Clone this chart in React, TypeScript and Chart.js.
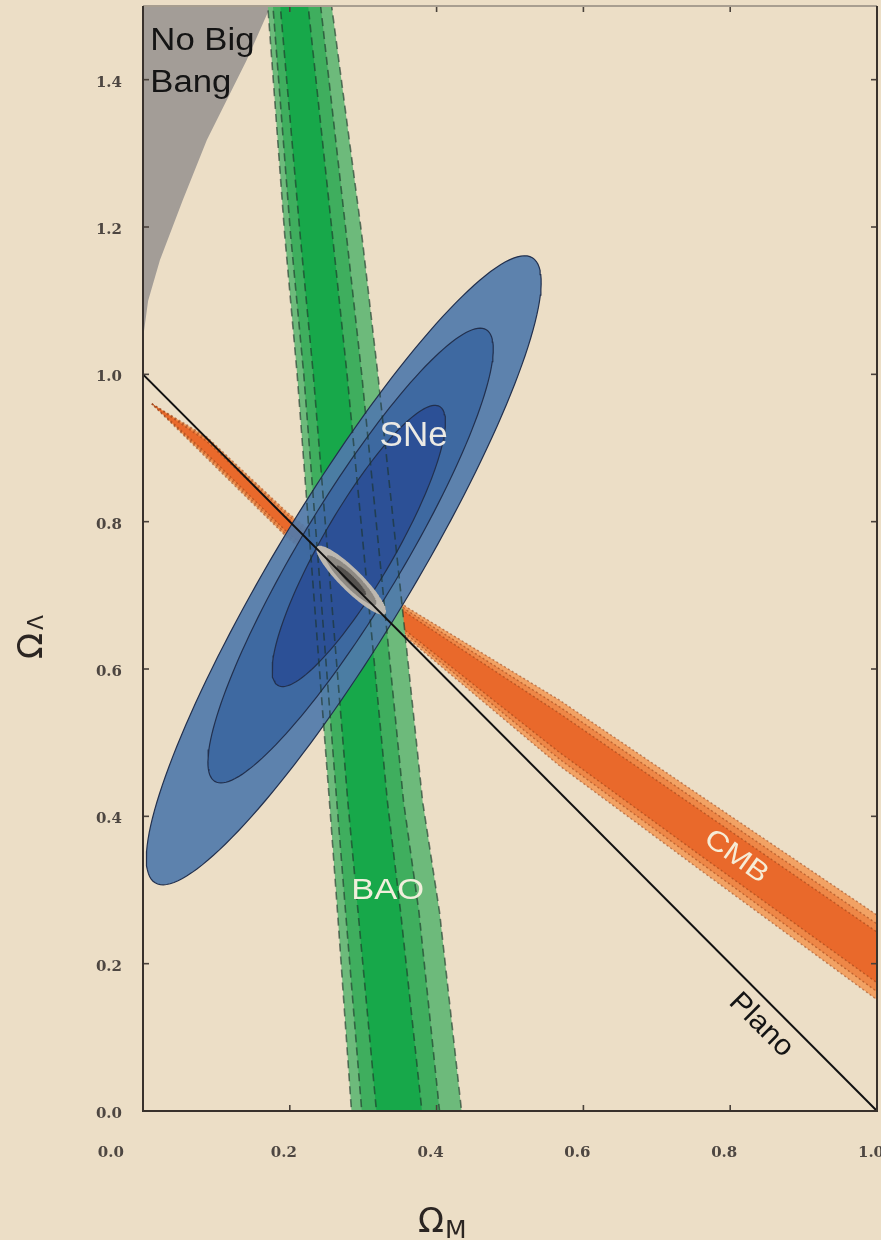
import { useEffect, useRef } from 'react';
import { Chart, registerables } from 'chart.js';

Chart.register(...registerables);

const BG = '#ecdec6';

// ---------- tick labels ----------
const xTickLabels = ['0.0', '0.2', '0.4', '0.6', '0.8', '1.0'];
const yTickLabels = ['0.0', '0.2', '0.4', '0.6', '0.8', '1.0', '1.2', '1.4'];

// ---------- "No Big Bang" region boundary ----------
const noBigBangX = [-0.02, 0.0, 0.001, 0.007, 0.023, 0.054, 0.087, 0.114, 0.141, 0.173, 0.185, -0.02];
const noBigBangY = [1.0, 1.0, 1.056, 1.1, 1.155, 1.236, 1.318, 1.372, 1.426, 1.498, 1.53, 1.53];

// ---------- BAO band (left / right edges of 3, 2, 1 sigma) ----------
const baoY = [-0.03, 0.0, 0.27, 0.42, 1.0, 1.19, 1.5, 1.53];
const bao3Left = [0.286, 0.284, 0.265, 0.254, 0.21, 0.193, 0.17, 0.168];
const bao2Left = [0.3, 0.298, 0.276, 0.264, 0.219, 0.201, 0.177, 0.175];
const bao1Left = [0.32, 0.318, 0.293, 0.279, 0.232, 0.214, 0.187, 0.185];
const bao1Right = [0.383, 0.38, 0.351, 0.333, 0.278, 0.258, 0.225, 0.223];
const bao2Right = [0.407, 0.404, 0.376, 0.355, 0.298, 0.277, 0.242, 0.24];
const bao3Right = [0.437, 0.434, 0.404, 0.381, 0.32, 0.298, 0.257, 0.255];

// ---------- CMB band (upper / lower edges of 3, 2, 1 sigma) ----------
const cmbX = [0.012, 0.087, 0.196, 0.359, 0.567, 0.758, 1.0, 1.05];
const cmb3Top = [0.96, 0.915, 0.813, 0.684, 0.558, 0.429, 0.266, 0.231];
const cmb3Bot = [0.96, 0.886, 0.779, 0.643, 0.469, 0.328, 0.151, 0.112];
const cmb2Top = [0.96, 0.912, 0.81, 0.68, 0.549, 0.419, 0.254, 0.219];
const cmb2Bot = [0.96, 0.889, 0.782, 0.647, 0.478, 0.338, 0.162, 0.124];
const cmb1Top = [0.96, 0.909, 0.806, 0.676, 0.54, 0.409, 0.243, 0.207];
const cmb1Bot = [0.96, 0.892, 0.786, 0.651, 0.487, 0.348, 0.174, 0.136];

// ---------- SNe confidence ellipses (3, 2, 1 sigma) ----------
const sneCenterX = [0.2735, 0.2828, 0.294];
const sneCenterY = [0.734, 0.754, 0.767];
const sneSemiMajor = [0.496, 0.358, 0.219];
const sneSemiMinor = [0.093, 0.07, 0.049];
const sneAngleDeg = [58.8, 58.9, 59.8];

// ---------- combined constraint ellipse ----------
const comboCenterX = [0.2837, 0.2837, 0.2837];
const comboCenterY = [0.7205, 0.7205, 0.7205];
const comboSemiMajor = [0.065, 0.047, 0.028];
const comboSemiMinor = [0.015, 0.0105, 0.0055];
const comboAngleDeg = [-44.6, -44.6, -44.6];

// ---------- flat universe line ----------
const planoX = [0, 1];
const planoY = [1, 0];

// ---------- labels (data coordinates) ----------
const labelTexts = ['No Big', 'Bang', 'SNe', 'BAO', 'CMB', 'Plano'];
const labelX = [0.01, 0.01, 0.3687, 0.3333, 0.808, 0.842];
const labelY = [1.4396, 1.3826, 0.916, 0.2985, 0.345, 0.1167];

type P = { x: number; y: number };

const zip = (xs: number[], ys: number[]): P[] => xs.map((x, i) => ({ x, y: ys[i] }));

const verticalBand = (left: number[], right: number[]): P[] => [
  ...baoY.map((y, i) => ({ x: left[i], y })),
  ...baoY.map((y, i) => ({ x: right[i], y })).reverse(),
];

const horizontalBand = (top: number[], bot: number[]): P[] => [
  ...cmbX.map((x, i) => ({ x, y: top[i] })),
  ...cmbX.map((x, i) => ({ x, y: bot[i] })).reverse(),
];

const ellipse = (cx: number, cy: number, a: number, b: number, angDeg: number, n = 160): P[] => {
  const t = (angDeg * Math.PI) / 180;
  const pts: P[] = [];
  for (let i = 0; i <= n; i++) {
    const u = (2 * Math.PI * i) / n;
    const ex = a * Math.cos(u);
    const ey = b * Math.sin(u);
    pts.push({ x: cx + ex * Math.cos(t) - ey * Math.sin(t), y: cy + ex * Math.sin(t) + ey * Math.cos(t) });
  }
  return pts;
};

const shape = (label: string, data: P[], fillColor: string, extra: any = {}) => ({
  label,
  data,
  fill: 'shape',
  backgroundColor: fillColor,
  borderColor: 'transparent',
  borderWidth: 0,
  pointRadius: 0,
  pointHoverRadius: 0,
  pointHitRadius: 0,
  tension: 0,
  clip: 0,
  ...extra,
});

const outline = (label: string, data: P[], color: string, width: number, dash: number[]) => ({
  label,
  data,
  fill: false,
  borderColor: color,
  borderWidth: width,
  borderDash: dash,
  pointRadius: 0,
  pointHoverRadius: 0,
  pointHitRadius: 0,
  tension: 0,
  clip: 0,
});

function buildDatasets() {
  const list: any[] = [];
  list.push(shape('No Big Bang', zip(noBigBangX, noBigBangY), '#a39d97'));

  const cmbDots = { borderColor: 'rgba(150,62,22,0.55)', borderWidth: 1.4, borderDash: [2, 2.5] };
  list.push(shape('CMB 3σ', horizontalBand(cmb3Top, cmb3Bot), '#f2a264', cmbDots));
  list.push(shape('CMB 2σ', horizontalBand(cmb2Top, cmb2Bot), '#ee8747', cmbDots));
  list.push(shape('CMB 1σ', horizontalBand(cmb1Top, cmb1Bot), '#e9692b', cmbDots));

  const baoBands = [
    verticalBand(bao3Left, bao3Right),
    verticalBand(bao2Left, bao2Right),
    verticalBand(bao1Left, bao1Right),
  ];
  list.push(shape('BAO 3σ', baoBands[0], '#6dba7b'));
  list.push(shape('BAO 2σ', baoBands[1], '#3fae5e'));
  list.push(shape('BAO 1σ', baoBands[2], '#17a84a'));

  const sneFill = ['rgba(80,122,170,0.92)', 'rgba(60,103,159,0.92)', 'rgba(42,78,149,0.92)'];
  for (let i = 0; i < 3; i++) {
    list.push(
      shape(
        `SNe ${3 - i}σ`,
        ellipse(sneCenterX[i], sneCenterY[i], sneSemiMajor[i], sneSemiMinor[i], sneAngleDeg[i]),
        sneFill[i],
        { borderColor: '#22304e', borderWidth: 1.2 }
      )
    );
  }

  // BAO dashed contours, drawn over the SNe ellipses (visible through them)
  for (let i = 0; i < 3; i++) {
    list.push(outline(`BAO contour ${3 - i}σ`, baoBands[i], 'rgba(28,52,40,0.62)', 1.6, [8, 5]));
  }

  const comboFill = ['#bdb8b0', '#8d8983', '#55524f'];
  for (let i = 0; i < 3; i++) {
    list.push(
      shape(
        `Combined ${3 - i}σ`,
        ellipse(comboCenterX[i], comboCenterY[i], comboSemiMajor[i], comboSemiMinor[i], comboAngleDeg[i]),
        comboFill[i]
      )
    );
  }

  list.push(outline('Plano', zip(planoX, planoY), '#111111', 2, []));

  const n = list.length;
  list.forEach((d, k) => (d.order = n - k));
  return list;
}

const bgPlugin = {
  id: 'bg',
  beforeDraw(chart: any) {
    const { ctx, width, height } = chart;
    ctx.save();
    ctx.fillStyle = BG;
    ctx.fillRect(0, 0, width, height);
    ctx.restore();
  },
};

const framePlugin = {
  id: 'frame',
  afterDatasetsDraw(chart: any) {
    const { ctx, chartArea: a, scales } = chart;
    const xs = scales.x;
    const ys = scales.y;
    ctx.save();
    const seg = (x1: number, y1: number, x2: number, y2: number) => {
      ctx.beginPath();
      ctx.moveTo(x1, y1);
      ctx.lineTo(x2, y2);
      ctx.stroke();
    };
    ctx.lineWidth = 1.6;
    ctx.strokeStyle = '#4a423b';
    const tl = 6;
    for (const t of xs.ticks) {
      if (t.value <= 0 || t.value >= 1) continue;
      const px = xs.getPixelForValue(t.value);
      seg(px, a.bottom, px, a.bottom - tl);
      seg(px, a.top, px, a.top + tl);
    }
    for (const t of ys.ticks) {
      if (t.value <= 0) continue;
      const py = ys.getPixelForValue(t.value);
      seg(a.left, py, a.left + tl, py);
      seg(a.right, py, a.right - tl, py);
    }
    ctx.lineWidth = 2;
    ctx.strokeStyle = '#a89e90';
    seg(a.left, a.top, a.right, a.top);
    ctx.strokeStyle = '#38312c';
    seg(a.left, a.top, a.left, a.bottom + 1);
    seg(a.left - 1, a.bottom, a.right + 1, a.bottom);
    seg(a.right, a.top, a.right, a.bottom + 1);
    ctx.restore();
  },
};

const labelStyle = [
  { size: 31, sx: 1.12, rot: 0, color: '#141414', align: 'left', base: 'alphabetic' },
  { size: 31, sx: 1.12, rot: 0, color: '#141414', align: 'left', base: 'alphabetic' },
  { size: 35, sx: 1.0, rot: 0, color: '#eceae4', align: 'center', base: 'middle' },
  { size: 30, sx: 1.15, rot: 0, color: '#f1efdc', align: 'center', base: 'middle' },
  { size: 28, sx: 1.15, rot: 35.6, color: '#f6ecd6', align: 'center', base: 'middle' },
  { size: 29, sx: 1.05, rot: 45, color: '#141414', align: 'center', base: 'middle' },
];

const textPlugin = {
  id: 'texts',
  afterDatasetsDraw(chart: any) {
    const { ctx, scales } = chart;
    for (let i = 0; i < labelTexts.length; i++) {
      const s = labelStyle[i];
      ctx.save();
      ctx.translate(scales.x.getPixelForValue(labelX[i]), scales.y.getPixelForValue(labelY[i]));
      ctx.rotate((s.rot * Math.PI) / 180);
      ctx.scale(s.sx, 1);
      ctx.font = `${s.size}px "Liberation Sans", Arial, sans-serif`;
      ctx.fillStyle = s.color;
      ctx.textAlign = s.align;
      ctx.textBaseline = s.base;
      ctx.fillText(labelTexts[i], 0, 0);
      ctx.restore();
    }
  },
};

const titlePlugin = {
  id: 'axisTitles',
  afterDraw(chart: any) {
    const { ctx } = chart;
    ctx.save();
    ctx.fillStyle = '#2b2522';
    ctx.textAlign = 'left';
    ctx.textBaseline = 'alphabetic';
    // x title: Omega_M
    ctx.font = '34px "DejaVu Sans", sans-serif';
    const ox = 418;
    const oy = 1232;
    ctx.fillText('Ω', ox, oy);
    const w = ctx.measureText('Ω').width;
    ctx.font = '25px "DejaVu Sans", sans-serif';
    ctx.fillText('M', ox + w + 1, oy + 6);
    // y title: Omega_Lambda
    ctx.translate(42, 659);
    ctx.rotate(-Math.PI / 2);
    ctx.font = '34px "DejaVu Sans", sans-serif';
    ctx.fillText('Ω', 0, 0);
    const w2 = ctx.measureText('Ω').width;
    ctx.font = '22px "DejaVu Sans", sans-serif';
    ctx.fillText('Λ', w2 + 3, 1);
    ctx.restore();
  },
};

const tickFont = { family: '"DejaVu Serif", serif', size: 15, weight: 'bold' };
const tickColor = '#4d4641';

export default function App() {
  const ref = useRef<HTMLCanvasElement>(null);
  useEffect(() => {
    document.body.style.margin = '0';
    document.body.style.background = BG;
    const chart = new Chart(ref.current as HTMLCanvasElement, {
      type: 'line',
      data: { datasets: buildDatasets() },
      options: {
        animation: false,
        responsive: false,
        maintainAspectRatio: false,
        devicePixelRatio: 1,
        events: [],
        layout: { padding: { top: 6, right: 4, bottom: 0, left: 0 } },
        plugins: { legend: { display: false }, tooltip: { enabled: false }, title: { display: false } },
        scales: {
          x: {
            type: 'linear',
            min: 0,
            max: 1,
            grid: { display: false, drawTicks: false },
            border: { display: false },
            ticks: {
              stepSize: 0.2,
              autoSkip: false,
              maxRotation: 0,
              padding: 33,
              labelOffset: -6,
              color: tickColor,
              font: tickFont,
              callback: (_v: any, i: number) => (i === 0 ? xTickLabels[i] + '          ' : xTickLabels[i]),
            },
            afterFit: (s: any) => {
              s.height = 129;
              s.paddingLeft = 0;
              s.paddingRight = 0;
            },
          },
          y: {
            type: 'linear',
            min: 0,
            max: 1.5,
            grid: { display: false, drawTicks: false },
            border: { display: false },
            ticks: {
              stepSize: 0.2,
              includeBounds: false,
              autoSkip: false,
              padding: 21,
              labelOffset: 3,
              color: tickColor,
              font: tickFont,
              callback: (_v: any, i: number) => yTickLabels[i],
            },
            afterFit: (s: any) => {
              s.width = 143;
              s.paddingTop = 0;
              s.paddingBottom = 0;
            },
          },
        },
      } as any,
      plugins: [bgPlugin, framePlugin, textPlugin, titlePlugin],
    });
    return () => chart.destroy();
  }, []);
  return (
    <div style={{ width: 881, height: 1240, background: BG }}>
      <canvas ref={ref} width={881} height={1240} style={{ display: 'block', width: 881, height: 1240 }} />
    </div>
  );
}
